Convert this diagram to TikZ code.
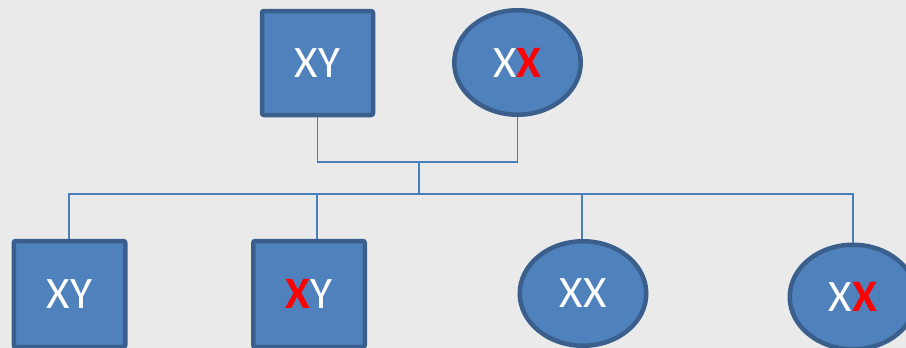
\documentclass[tikz,border=0pt]{standalone}
\usepackage{fontspec}
\setmainfont{Carlito}
\usetikzlibrary{shapes.geometric}
\definecolor{bg}{HTML}{EAEAEA}
\definecolor{fillb}{HTML}{4F81BD}
\definecolor{edgeb}{HTML}{3A5F8C}
\definecolor{lineb}{HTML}{4A7EBB}
\definecolor{redx}{HTML}{FF0000}
\tikzset{
  male/.style={draw=edgeb, fill=fillb, line width=4.5pt, rounded corners=2pt,
    minimum width=111pt, minimum height=104pt, inner sep=0pt,
    text=white, font=\fontsize{45}{45}\selectfont},
  female/.style={ellipse, draw=edgeb, fill=fillb, line width=4.5pt,
    minimum width=126.5pt, minimum height=104.5pt, inner sep=0pt,
    text=white, font=\fontsize{45}{45}\selectfont},
  link/.style={draw=lineb, line width=1.7pt}
}
\newcommand{\rx}{\textcolor{redx}{\textbf{X}}}
\begin{document}
\begin{tikzpicture}[x=1pt,y=-1pt]
\fill[bg] (0,0) rectangle (906,348);
\useasboundingbox (0,0) rectangle (906,348);
% parents
\node[male] (f) at (317.5,63) {XY};
\node[female] (m) at (517.5,62.5) {X\rx};
% children
\node[male, minimum width=111.5pt, minimum height=106pt] (c1) at (69.5,294) {XY};
\node[male, minimum width=111.5pt, minimum height=106pt] (c2) at (309,294) {\rx Y};
\node[female] (c3) at (583,293.5) {XX};
\node[female] (c4) at (853,297) {X\rx};
% connectors
\coordinate (j) at (419,162);
\coordinate (bl) at (69,194);
\coordinate (br) at (853,194);
\coordinate (bm) at (419,194);
\coordinate (t2) at (317,194);
\coordinate (t3) at (582,194);
\draw[link] (f.south) -- (f.south |- j) -- (m.south |- j) -- (m.south);
\draw[link] (j) -- (bm);
\draw[link] (c1.north -| bl) -- (bl) -- (br) -- (c4.north -| br);
\draw[link] (t2) -- (t2 |- c2.north);
\draw[link] (t3) -- (t3 |- c3.north);
\end{tikzpicture}
\end{document}
